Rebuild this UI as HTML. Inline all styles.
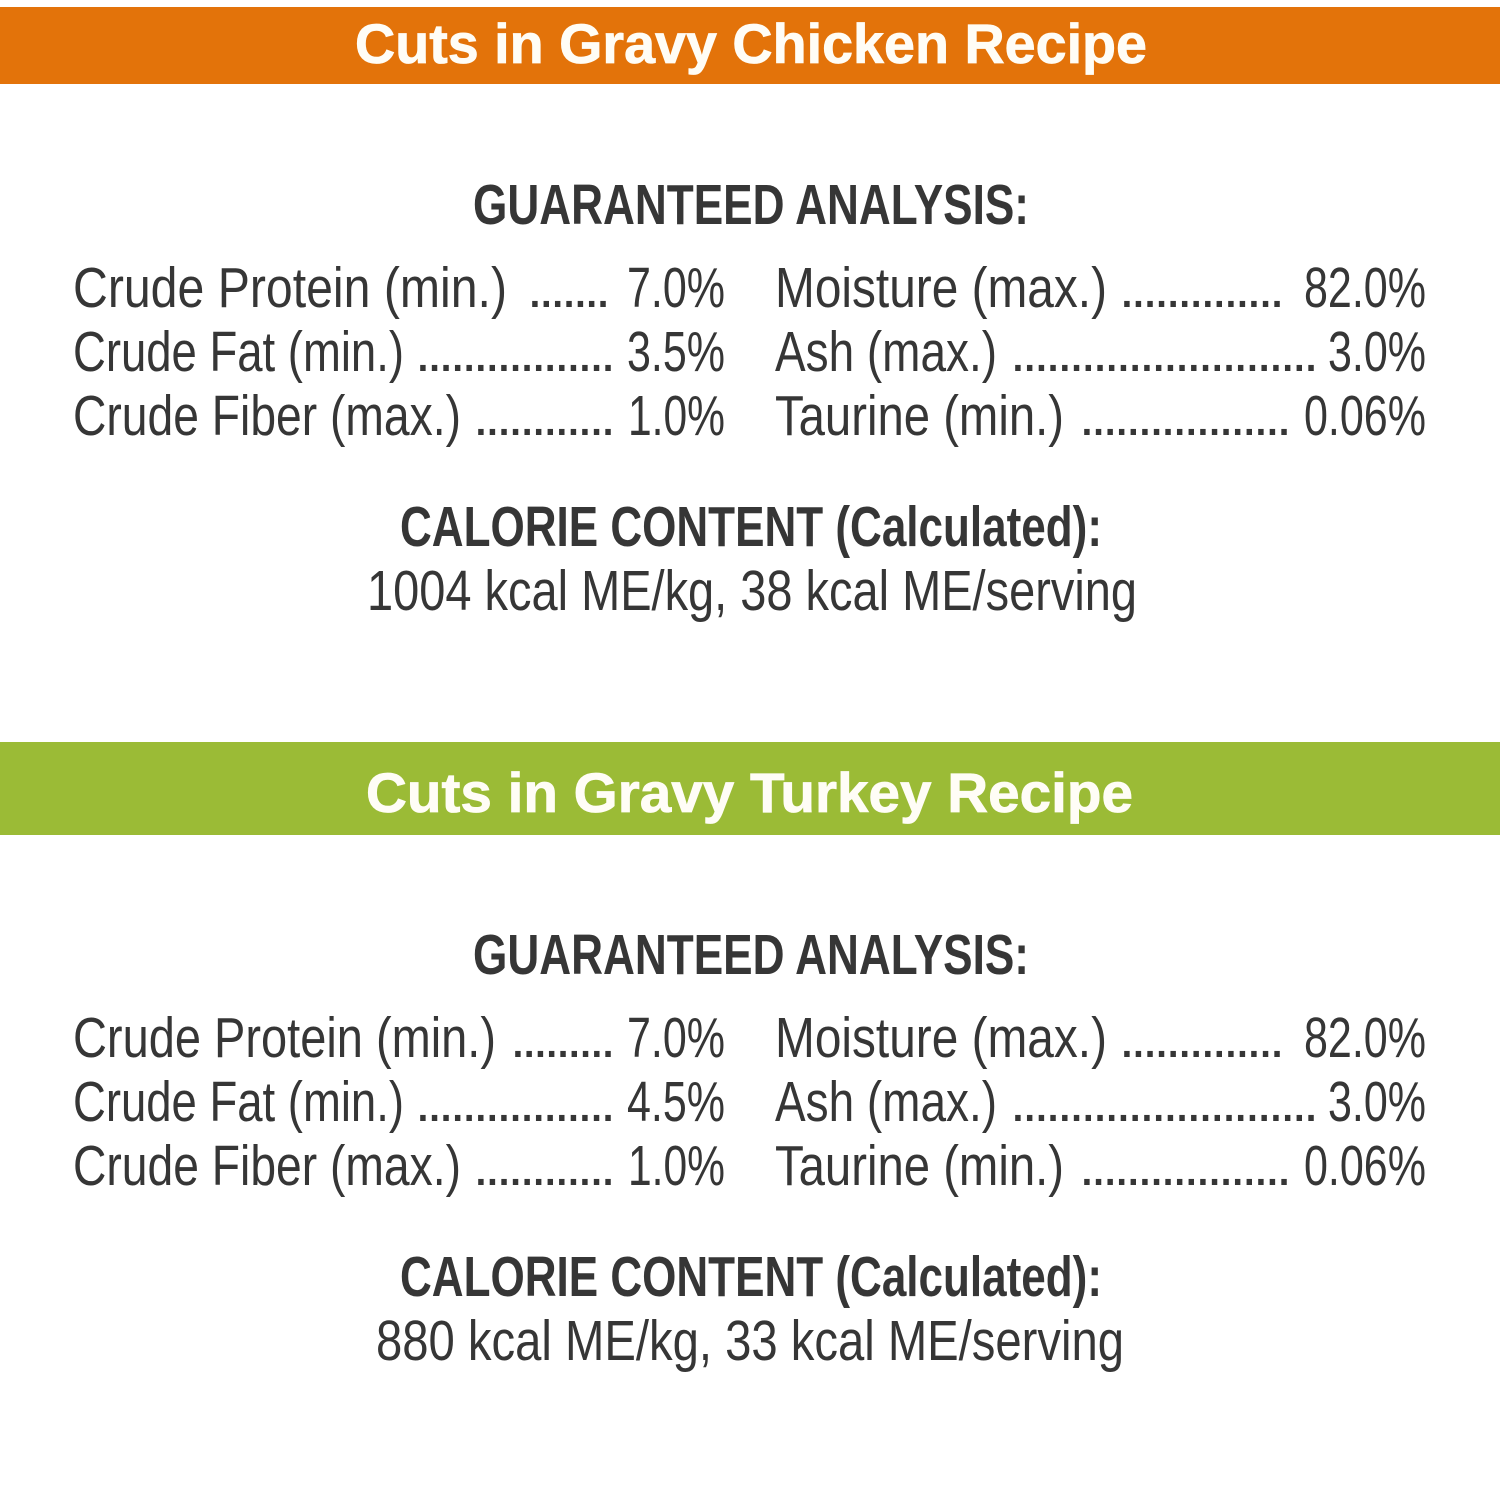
<!DOCTYPE html>
<html>
<head>
<meta charset="utf-8">
<style>
html,body{margin:0;padding:0;background:#fff;}
svg{display:block;}
.t{font-family:"Liberation Sans",sans-serif;fill:#363636;}
.b{font-weight:bold;}
.ti{font-family:"Liberation Sans",sans-serif;font-weight:bold;fill:#fffdf6;stroke:#fffdf6;stroke-width:0.8;}
</style>
</head>
<body>
<svg width="1500" height="1500" viewBox="0 0 1500 1500" xmlns="http://www.w3.org/2000/svg">
<rect x="0" y="0" width="1500" height="1500" fill="#ffffff"/>

<!-- Orange banner -->
<rect x="0" y="7" width="1500" height="77" fill="#e3730a"/>
<text class="ti" x="355" y="63" font-size="56" textLength="792" lengthAdjust="spacingAndGlyphs">Cuts in Gravy Chicken Recipe</text>

<!-- Section 1 -->
<text class="t b" x="473" y="224" font-size="57" textLength="556" lengthAdjust="spacingAndGlyphs">GUARANTEED ANALYSIS:</text>

<g font-size="57">
<text class="t" x="73" y="307" textLength="434" lengthAdjust="spacingAndGlyphs">Crude  Protein (min.)</text>
<text class="t" x="527" y="307" textLength="84" lengthAdjust="spacing">.......</text>
<text class="t" x="627" y="307" textLength="98" lengthAdjust="spacingAndGlyphs">7.0%</text>

<text class="t" x="73" y="371" textLength="331" lengthAdjust="spacingAndGlyphs">Crude Fat (min.)</text>
<text class="t" x="415" y="371" textLength="201" lengthAdjust="spacing">.................</text>
<text class="t" x="627" y="371" textLength="98" lengthAdjust="spacingAndGlyphs">3.5%</text>

<text class="t" x="73" y="435" textLength="388" lengthAdjust="spacingAndGlyphs">Crude Fiber (max.)</text>
<text class="t" x="473" y="435" textLength="143" lengthAdjust="spacing">............</text>
<text class="t" x="628" y="435" textLength="97" lengthAdjust="spacingAndGlyphs">1.0%</text>

<text class="t" x="775" y="307" textLength="332" lengthAdjust="spacingAndGlyphs">Moisture (max.)</text>
<text class="t" x="1119" y="307" textLength="166" lengthAdjust="spacing">..............</text>
<text class="t" x="1304" y="307" textLength="122" lengthAdjust="spacingAndGlyphs">82.0%</text>

<text class="t" x="775" y="371" textLength="222" lengthAdjust="spacingAndGlyphs">Ash (max.)</text>
<text class="t" x="1010" y="371" textLength="309" lengthAdjust="spacing">..........................</text>
<text class="t" x="1328" y="371" textLength="98" lengthAdjust="spacingAndGlyphs">3.0%</text>

<text class="t" x="775" y="435" textLength="289" lengthAdjust="spacingAndGlyphs">Taurine (min.)</text>
<text class="t" x="1079" y="435" textLength="213" lengthAdjust="spacing">..................</text>
<text class="t" x="1304" y="435" textLength="122" lengthAdjust="spacingAndGlyphs">0.06%</text>
</g>

<text class="t b" x="400" y="546" font-size="57" textLength="702" lengthAdjust="spacingAndGlyphs">CALORIE CONTENT (Calculated):</text>
<text class="t" x="367" y="610" font-size="57" textLength="770" lengthAdjust="spacingAndGlyphs">1004 kcal ME/kg, 38 kcal ME/serving</text>

<!-- Green banner -->
<rect x="0" y="742" width="1500" height="93" fill="#9bbb36"/>
<text class="ti" x="366" y="812" font-size="56" textLength="767" lengthAdjust="spacingAndGlyphs">Cuts in Gravy Turkey Recipe</text>

<!-- Section 2 -->
<text class="t b" x="473" y="974" font-size="57" textLength="556" lengthAdjust="spacingAndGlyphs">GUARANTEED ANALYSIS:</text>

<g font-size="57">
<text class="t" x="73" y="1057" textLength="423" lengthAdjust="spacingAndGlyphs">Crude Protein (min.)</text>
<text class="t" x="510" y="1057" textLength="106" lengthAdjust="spacing">.........</text>
<text class="t" x="627" y="1057" textLength="98" lengthAdjust="spacingAndGlyphs">7.0%</text>

<text class="t" x="73" y="1121" textLength="331" lengthAdjust="spacingAndGlyphs">Crude Fat (min.)</text>
<text class="t" x="415" y="1121" textLength="201" lengthAdjust="spacing">.................</text>
<text class="t" x="627" y="1121" textLength="98" lengthAdjust="spacingAndGlyphs">4.5%</text>

<text class="t" x="73" y="1185" textLength="388" lengthAdjust="spacingAndGlyphs">Crude Fiber (max.)</text>
<text class="t" x="473" y="1185" textLength="143" lengthAdjust="spacing">............</text>
<text class="t" x="628" y="1185" textLength="97" lengthAdjust="spacingAndGlyphs">1.0%</text>

<text class="t" x="775" y="1057" textLength="332" lengthAdjust="spacingAndGlyphs">Moisture (max.)</text>
<text class="t" x="1119" y="1057" textLength="166" lengthAdjust="spacing">..............</text>
<text class="t" x="1304" y="1057" textLength="122" lengthAdjust="spacingAndGlyphs">82.0%</text>

<text class="t" x="775" y="1121" textLength="222" lengthAdjust="spacingAndGlyphs">Ash (max.)</text>
<text class="t" x="1010" y="1121" textLength="309" lengthAdjust="spacing">..........................</text>
<text class="t" x="1328" y="1121" textLength="98" lengthAdjust="spacingAndGlyphs">3.0%</text>

<text class="t" x="775" y="1185" textLength="289" lengthAdjust="spacingAndGlyphs">Taurine (min.)</text>
<text class="t" x="1079" y="1185" textLength="213" lengthAdjust="spacing">..................</text>
<text class="t" x="1304" y="1185" textLength="122" lengthAdjust="spacingAndGlyphs">0.06%</text>
</g>

<text class="t b" x="400" y="1296" font-size="57" textLength="702" lengthAdjust="spacingAndGlyphs">CALORIE CONTENT (Calculated):</text>
<text class="t" x="376" y="1360" font-size="57" textLength="748" lengthAdjust="spacingAndGlyphs">880 kcal ME/kg, 33 kcal ME/serving</text>
</svg>
</body>
</html>
